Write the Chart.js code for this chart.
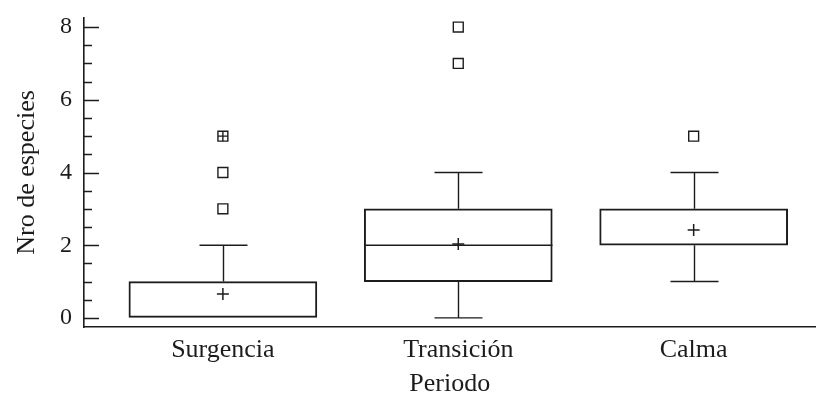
<!DOCTYPE html>
<html>
<head>
<meta charset="utf-8">
<script src="https://cdn.jsdelivr.net/npm/chart.js@4/dist/chart.umd.min.js"></script>
<style>
  html, body { margin: 0; padding: 0; background: #ffffff; }
  #wrap { width: 824px; height: 397px; }
</style>
</head>
<body>
<div id="wrap"><canvas id="c" width="824" height="397"></canvas></div>
<script>
// Number of species per period: box-plot summaries
const categories   = ['Surgencia', 'Transición', 'Calma'];
const whiskerLow   = [0, 0, 1];
const quartile1    = [0, 1, 2];
const medians      = [0, 2, 2];
const quartile3    = [1, 3, 3];
const whiskerHigh  = [2, 4, 4];
const means        = [0.66, 2.03, 2.42];
// Outlying observations per period (repeated values appear twice)
const outliers     = [[3, 4, 5, 5], [7, 8], [5]];
const yTicks       = [0, 2, 4, 6, 8];

const INK = '#1c1c1c';
const SERIF = "'Liberation Serif', 'Times New Roman', serif";

const boxData = categories.map((c, i) => ({ x: i + 1, y: [quartile1[i], quartile3[i]] }));
const meanData = categories.map((c, i) => ({ x: i + 1, y: means[i] }));
const outlierData = [];
const repeatData = [];
outliers.forEach((vals, i) => {
  const seen = {};
  vals.forEach(v => { seen[v] = (seen[v] || 0) + 1; });
  Object.keys(seen).forEach(k => {
    outlierData.push({ x: i + 1, y: Number(k) });
    if (seen[k] > 1) repeatData.push({ x: i + 1, y: Number(k) });
  });
});

// Whiskers, caps and median lines drawn on top of the boxes
const whiskerPlugin = {
  id: 'whiskers',
  afterDatasetsDraw(chart) {
    const { ctx, scales: { x, y } } = chart;
    const boxes = chart.getDatasetMeta(0).data;
    const cap = 24;
    ctx.save();
    ctx.strokeStyle = INK;
    ctx.lineWidth = 1.4;
    ctx.beginPath();
    categories.forEach((c, i) => {
      const px = Math.round(x.getPixelForValue(i + 1)) + 0.5;
      const half = boxes[i].width / 2;
      const yq1 = y.getPixelForValue(quartile1[i]);
      const yq3 = y.getPixelForValue(quartile3[i]);
      const ylo = y.getPixelForValue(whiskerLow[i]);
      const yhi = y.getPixelForValue(whiskerHigh[i]);
      const ymed = y.getPixelForValue(medians[i]);
      if (whiskerHigh[i] > quartile3[i]) {
        ctx.moveTo(px, yq3); ctx.lineTo(px, yhi);
        ctx.moveTo(px - cap, yhi); ctx.lineTo(px + cap, yhi);
      }
      if (whiskerLow[i] < quartile1[i]) {
        ctx.moveTo(px, yq1); ctx.lineTo(px, ylo);
        ctx.moveTo(px - cap, ylo); ctx.lineTo(px + cap, ylo);
      }
      if (medians[i] > quartile1[i] && medians[i] < quartile3[i]) {
        ctx.moveTo(px - half, ymed); ctx.lineTo(px + half, ymed);
      }
    });
    ctx.stroke();
    ctx.restore();
  }
};

// Inward major and minor tick marks on the value axis
const tickPlugin = {
  id: 'inwardTicks',
  afterDraw(chart) {
    const { ctx, scales: { y }, chartArea } = chart;
    const x0 = chartArea.left;
    ctx.save();
    ctx.strokeStyle = INK;
    ctx.lineWidth = 1.5;
    ctx.beginPath();
    for (let v = yTicks[0]; v <= yTicks[yTicks.length - 1] + 1e-9; v += 0.5) {
      const py = Math.round(y.getPixelForValue(v)) + 0.5;
      const major = yTicks.includes(v);
      ctx.moveTo(x0, py);
      ctx.lineTo(x0 + (major ? 15 : 8), py);
    }
    ctx.stroke();
    ctx.restore();
  }
};

new Chart(document.getElementById('c'), {
  data: {
    datasets: [
      {
        type: 'bar',
        data: boxData,
        backgroundColor: 'rgba(255,255,255,0)',
        borderColor: INK,
        borderWidth: 1.3,
        borderSkipped: false,
        barThickness: 188,
        order: 3
      },
      {
        type: 'scatter',
        data: meanData,
        pointStyle: 'cross',
        radius: 6,
        borderWidth: 1.5,
        borderColor: INK,
        order: 1
      },
      {
        type: 'scatter',
        data: outlierData,
        pointStyle: 'rect',
        radius: 7,
        borderWidth: 1.4,
        borderColor: INK,
        backgroundColor: 'rgba(255,255,255,0)',
        order: 1
      },
      {
        type: 'scatter',
        data: repeatData,
        pointStyle: 'cross',
        radius: 5,
        borderWidth: 1.4,
        borderColor: INK,
        order: 1
      }
    ]
  },
  options: {
    responsive: false,
    animation: false,
    events: [],
    layout: { padding: { top: 18, right: 0, bottom: 0, left: 0 } },
    plugins: { legend: { display: false }, tooltip: { enabled: false } },
    scales: {
      x: {
        type: 'linear',
        offset: false,
        min: 0.41,
        max: 3.518,
        afterBuildTicks(scale) { scale.ticks = categories.map((c, i) => ({ value: i + 1 })); },
        afterFit(scale) { scale.height = 70; scale.paddingLeft = 0; scale.paddingRight = 0; },
        ticks: {
          callback: (v) => categories[v - 1],
          color: INK,
          padding: 8,
          maxRotation: 0,
          autoSkip: false,
          font: { family: SERIF, size: 26 }
        },
        grid: { display: true, offset: false, drawOnChartArea: false, drawTicks: false },
        border: { display: true, color: INK, width: 1.6 },
        title: {
          display: true,
          text: 'Periodo',
          color: INK,
          padding: { top: 0, bottom: 0 },
          font: { family: SERIF, size: 26, lineHeight: 1 }
        }
      },
      y: {
        type: 'linear',
        min: -0.25,
        max: 8.25,
        afterBuildTicks(scale) { scale.ticks = yTicks.map(v => ({ value: v })); },
        afterFit(scale) { scale.width = 84; scale.paddingTop = 0; scale.paddingBottom = 0; },
        ticks: {
          color: INK,
          padding: 12,
          font: { family: SERIF, size: 24 }
        },
        grid: { display: true, drawOnChartArea: false, drawTicks: false },
        border: { display: true, color: INK, width: 1.6 },
        title: {
          display: true,
          text: 'Nro de especies',
          color: INK,
          padding: { top: 14, bottom: 0 },
          font: { family: SERIF, size: 26, lineHeight: 1 }
        }
      }
    }
  },
  plugins: [whiskerPlugin, tickPlugin]
});
</script>
</body>
</html>
